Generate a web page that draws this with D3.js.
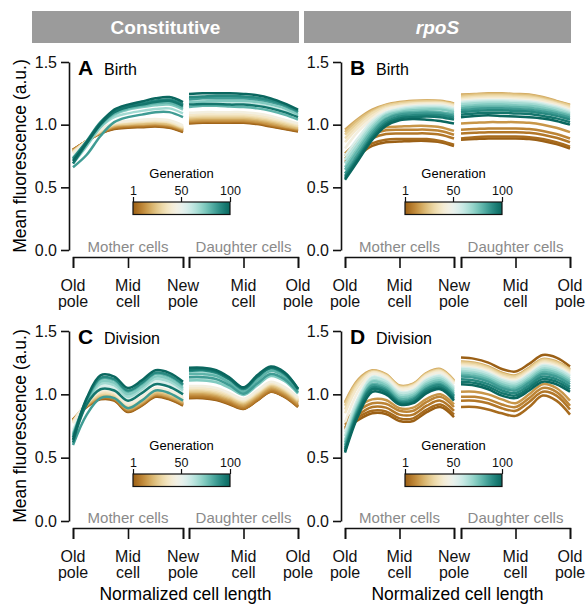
<!DOCTYPE html>
<html>
<head>
<meta charset="utf-8">
<script src="https://cdn.jsdelivr.net/npm/d3@7"></script>
<style>
  body { margin: 0; background: #fff; }
  svg { font-family: "Liberation Sans", Arial, sans-serif; }
</style>
</head>
<body>
<script>
// generations plotted (sampled), positions along cell (0 = start of half, 1 = end)
const gens = [1, 4, 7, 10, 14, 18, 23, 28, 33, 38, 44, 56, 62, 68, 74, 80, 86, 91, 96, 100]
const xPoints = [0, 0.125, 0.25, 0.375, 0.5, 0.625, 0.75, 0.875, 1]
const yTicks = [0, 0.5, 1.0, 1.5]
const genTicks = [1, 50, 100]
const motherLabels = [["Old", "pole"], ["Mid", "cell"], ["New", "pole"]]
const daughterLabels = [[], ["Mid", "cell"], ["Old", "pole"]]

// A: Constitutive, birth
const constBirthMother = [
  [0.80, 0.87, 0.93, 0.965, 0.975, 0.98, 0.985, 0.975, 0.94],
  [0.80, 0.87, 0.93, 0.97, 0.98, 0.985, 0.99, 0.98, 0.945],
  [0.80, 0.87, 0.935, 0.975, 0.985, 0.99, 0.995, 0.985, 0.95],
  [0.80, 0.87, 0.935, 0.98, 0.99, 0.995, 1.00, 0.99, 0.955],
  [0.79, 0.87, 0.94, 0.985, 0.995, 1.00, 1.005, 0.995, 0.96],
  [0.79, 0.87, 0.94, 0.99, 1.00, 1.005, 1.01, 1.00, 0.965],
  [0.79, 0.87, 0.945, 0.995, 1.005, 1.01, 1.015, 1.005, 0.97],
  [0.78, 0.87, 0.945, 1.00, 1.01, 1.02, 1.025, 1.015, 0.975],
  [0.78, 0.87, 0.95, 1.005, 1.02, 1.025, 1.03, 1.02, 0.98],
  [0.78, 0.87, 0.955, 1.01, 1.025, 1.03, 1.035, 1.025, 0.985],
  [0.77, 0.87, 0.96, 1.015, 1.03, 1.04, 1.045, 1.035, 0.995],
  [0.73, 0.86, 0.99, 1.08, 1.12, 1.14, 1.16, 1.165, 1.125],
  [0.72, 0.86, 1.00, 1.10, 1.14, 1.165, 1.185, 1.195, 1.155],
  [0.74, 0.86, 0.98, 1.06, 1.09, 1.11, 1.125, 1.13, 1.09],
  [0.69, 0.83, 0.98, 1.08, 1.12, 1.14, 1.155, 1.16, 1.12],
  [0.72, 0.86, 1.00, 1.09, 1.13, 1.15, 1.17, 1.175, 1.135],
  [0.66, 0.76, 0.91, 1.02, 1.06, 1.08, 1.10, 1.10, 1.06],
  [0.73, 0.87, 1.02, 1.11, 1.15, 1.17, 1.19, 1.20, 1.16],
  [0.69, 0.85, 1.00, 1.10, 1.14, 1.16, 1.18, 1.19, 1.15],
  [0.71, 0.86, 1.01, 1.12, 1.16, 1.185, 1.21, 1.22, 1.18]
]
const constBirthDaughter = [
  [1.01, 1.015, 1.015, 1.015, 1.015, 1.005, 0.985, 0.965, 0.945],
  [1.015, 1.02, 1.02, 1.02, 1.02, 1.01, 0.99, 0.97, 0.95],
  [1.02, 1.025, 1.025, 1.025, 1.025, 1.015, 0.995, 0.975, 0.955],
  [1.025, 1.03, 1.03, 1.03, 1.03, 1.02, 1.00, 0.98, 0.96],
  [1.03, 1.035, 1.035, 1.035, 1.035, 1.025, 1.005, 0.985, 0.965],
  [1.04, 1.045, 1.045, 1.045, 1.045, 1.035, 1.015, 0.99, 0.97],
  [1.05, 1.055, 1.055, 1.055, 1.055, 1.045, 1.025, 1.00, 0.975],
  [1.06, 1.065, 1.065, 1.065, 1.065, 1.055, 1.035, 1.01, 0.985],
  [1.07, 1.075, 1.075, 1.075, 1.075, 1.065, 1.045, 1.02, 0.99],
  [1.08, 1.085, 1.085, 1.085, 1.085, 1.075, 1.055, 1.03, 1.00],
  [1.095, 1.10, 1.10, 1.10, 1.10, 1.09, 1.07, 1.04, 1.01],
  [1.19, 1.195, 1.20, 1.20, 1.195, 1.185, 1.165, 1.135, 1.09],
  [1.17, 1.175, 1.175, 1.175, 1.17, 1.16, 1.14, 1.11, 1.07],
  [1.21, 1.22, 1.22, 1.22, 1.215, 1.205, 1.185, 1.15, 1.10],
  [1.18, 1.185, 1.19, 1.19, 1.19, 1.18, 1.16, 1.13, 1.08],
  [1.14, 1.15, 1.15, 1.145, 1.14, 1.13, 1.11, 1.08, 1.04],
  [1.20, 1.21, 1.21, 1.21, 1.21, 1.20, 1.18, 1.15, 1.10],
  [1.22, 1.225, 1.23, 1.23, 1.225, 1.215, 1.195, 1.16, 1.11],
  [1.16, 1.165, 1.165, 1.16, 1.16, 1.15, 1.13, 1.10, 1.06],
  [1.245, 1.25, 1.25, 1.25, 1.245, 1.235, 1.21, 1.17, 1.12]
]

// B: rpoS, birth
const rpoBirthMother = [
  [0.70, 0.76, 0.83, 0.86, 0.865, 0.87, 0.87, 0.86, 0.83],
  [0.71, 0.78, 0.85, 0.88, 0.885, 0.885, 0.885, 0.87, 0.84],
  [0.73, 0.81, 0.89, 0.925, 0.93, 0.93, 0.93, 0.92, 0.89],
  [0.75, 0.84, 0.92, 0.955, 0.96, 0.96, 0.96, 0.95, 0.92],
  [0.77, 0.87, 0.95, 0.98, 0.985, 0.99, 0.99, 0.98, 0.95],
  [0.96, 1.05, 1.12, 1.16, 1.18, 1.19, 1.195, 1.19, 1.17],
  [0.94, 1.04, 1.11, 1.155, 1.175, 1.185, 1.19, 1.185, 1.165],
  [0.92, 1.02, 1.10, 1.15, 1.17, 1.18, 1.185, 1.18, 1.16],
  [0.89, 1.00, 1.09, 1.14, 1.16, 1.17, 1.175, 1.175, 1.155],
  [0.86, 0.98, 1.07, 1.13, 1.15, 1.165, 1.17, 1.17, 1.15],
  [0.81, 0.95, 1.05, 1.12, 1.145, 1.155, 1.16, 1.16, 1.14],
  [0.75, 0.90, 1.03, 1.10, 1.13, 1.145, 1.15, 1.15, 1.13],
  [0.72, 0.87, 1.01, 1.09, 1.12, 1.135, 1.14, 1.14, 1.12],
  [0.69, 0.85, 0.99, 1.08, 1.11, 1.125, 1.13, 1.13, 1.11],
  [0.66, 0.82, 0.97, 1.07, 1.10, 1.115, 1.12, 1.12, 1.10],
  [0.64, 0.80, 0.95, 1.05, 1.09, 1.10, 1.105, 1.10, 1.085],
  [0.61, 0.77, 0.93, 1.04, 1.08, 1.09, 1.095, 1.09, 1.07],
  [0.59, 0.75, 0.91, 1.02, 1.065, 1.075, 1.08, 1.075, 1.055],
  [0.575, 0.735, 0.895, 1.005, 1.05, 1.06, 1.065, 1.06, 1.04],
  [0.56, 0.72, 0.88, 0.99, 1.035, 1.045, 1.04, 1.03, 1.01]
]
const rpoBirthDaughter = [
  [0.88, 0.885, 0.89, 0.89, 0.89, 0.885, 0.87, 0.845, 0.81],
  [0.89, 0.90, 0.905, 0.905, 0.905, 0.90, 0.885, 0.86, 0.825],
  [0.93, 0.935, 0.94, 0.94, 0.94, 0.935, 0.92, 0.895, 0.86],
  [0.96, 0.965, 0.97, 0.97, 0.97, 0.965, 0.95, 0.925, 0.89],
  [1.01, 1.015, 1.02, 1.02, 1.02, 1.015, 1.00, 0.975, 0.94],
  [1.24, 1.245, 1.25, 1.25, 1.245, 1.24, 1.22, 1.19, 1.16],
  [1.23, 1.24, 1.245, 1.245, 1.24, 1.235, 1.215, 1.185, 1.155],
  [1.22, 1.23, 1.235, 1.235, 1.23, 1.225, 1.205, 1.18, 1.15],
  [1.21, 1.22, 1.225, 1.225, 1.22, 1.215, 1.20, 1.17, 1.14],
  [1.20, 1.21, 1.215, 1.215, 1.21, 1.205, 1.19, 1.165, 1.13],
  [1.19, 1.20, 1.205, 1.205, 1.20, 1.195, 1.18, 1.155, 1.12],
  [1.18, 1.19, 1.195, 1.195, 1.19, 1.185, 1.17, 1.145, 1.11],
  [1.17, 1.18, 1.185, 1.185, 1.18, 1.175, 1.16, 1.135, 1.10],
  [1.16, 1.17, 1.175, 1.175, 1.17, 1.165, 1.15, 1.125, 1.09],
  [1.145, 1.155, 1.16, 1.16, 1.155, 1.15, 1.135, 1.11, 1.08],
  [1.13, 1.14, 1.145, 1.145, 1.14, 1.135, 1.12, 1.10, 1.07],
  [1.115, 1.125, 1.13, 1.13, 1.125, 1.12, 1.105, 1.085, 1.055],
  [1.10, 1.11, 1.115, 1.115, 1.11, 1.105, 1.09, 1.07, 1.04],
  [1.08, 1.09, 1.095, 1.095, 1.09, 1.085, 1.07, 1.05, 1.02],
  [1.06, 1.07, 1.075, 1.07, 1.065, 1.06, 1.05, 1.03, 1.00]
]

// C: Constitutive, division
const constDivMother = [
  [0.80, 0.90, 0.96, 0.95, 0.86, 0.91, 0.98, 0.96, 0.91],
  [0.80, 0.905, 0.965, 0.955, 0.865, 0.915, 0.985, 0.965, 0.915],
  [0.80, 0.905, 0.97, 0.96, 0.87, 0.92, 0.99, 0.97, 0.92],
  [0.80, 0.91, 0.975, 0.965, 0.875, 0.925, 0.995, 0.975, 0.925],
  [0.79, 0.91, 0.98, 0.97, 0.88, 0.93, 1.00, 0.98, 0.93],
  [0.79, 0.915, 0.985, 0.975, 0.885, 0.935, 1.005, 0.985, 0.935],
  [0.79, 0.92, 0.99, 0.98, 0.895, 0.945, 1.015, 0.995, 0.945],
  [0.78, 0.925, 1.00, 0.99, 0.905, 0.955, 1.025, 1.005, 0.955],
  [0.78, 0.93, 1.01, 1.00, 0.915, 0.965, 1.035, 1.015, 0.965],
  [0.78, 0.93, 1.02, 1.01, 0.92, 0.97, 1.04, 1.02, 0.97],
  [0.77, 0.935, 1.03, 1.02, 0.93, 0.98, 1.05, 1.03, 0.98],
  [0.72, 0.93, 1.06, 1.05, 0.96, 1.02, 1.10, 1.08, 1.02],
  [0.70, 0.94, 1.09, 1.08, 0.99, 1.05, 1.13, 1.11, 1.04],
  [0.69, 0.93, 1.08, 1.07, 0.98, 1.04, 1.12, 1.10, 1.03],
  [0.66, 0.93, 1.10, 1.09, 1.00, 1.06, 1.14, 1.12, 1.05],
  [0.68, 0.95, 1.12, 1.11, 1.02, 1.08, 1.16, 1.14, 1.07],
  [0.60, 0.84, 0.97, 0.97, 0.89, 0.95, 1.03, 1.01, 0.95],
  [0.66, 0.96, 1.13, 1.12, 1.03, 1.09, 1.17, 1.15, 1.08],
  [0.62, 0.92, 1.04, 1.03, 0.95, 1.01, 1.08, 1.06, 1.00],
  [0.64, 0.97, 1.15, 1.14, 1.05, 1.11, 1.19, 1.17, 1.10]
]
const constDivDaughter = [
  [0.97, 0.97, 0.955, 0.92, 0.885, 0.95, 1.02, 0.98, 0.90],
  [0.975, 0.975, 0.96, 0.925, 0.888, 0.953, 1.023, 0.983, 0.903],
  [0.98, 0.98, 0.965, 0.93, 0.89, 0.955, 1.025, 0.985, 0.905],
  [0.99, 0.99, 0.975, 0.94, 0.90, 0.965, 1.035, 0.995, 0.915],
  [1.00, 1.00, 0.985, 0.95, 0.91, 0.975, 1.045, 1.005, 0.925],
  [1.01, 1.01, 0.995, 0.96, 0.92, 0.985, 1.055, 1.015, 0.935],
  [1.02, 1.02, 1.005, 0.97, 0.93, 0.995, 1.065, 1.025, 0.945],
  [1.03, 1.03, 1.015, 0.98, 0.94, 1.005, 1.075, 1.035, 0.95],
  [1.04, 1.04, 1.025, 0.99, 0.948, 1.013, 1.083, 1.043, 0.958],
  [1.05, 1.05, 1.035, 1.00, 0.955, 1.02, 1.09, 1.05, 0.965],
  [1.065, 1.065, 1.05, 1.01, 0.965, 1.03, 1.10, 1.06, 0.975],
  [1.15, 1.15, 1.135, 1.08, 1.015, 1.10, 1.175, 1.13, 1.025],
  [1.12, 1.12, 1.105, 1.06, 1.00, 1.075, 1.15, 1.11, 1.01],
  [1.175, 1.18, 1.16, 1.105, 1.035, 1.125, 1.20, 1.155, 1.035],
  [1.11, 1.11, 1.095, 1.05, 0.995, 1.07, 1.145, 1.105, 1.005],
  [1.16, 1.16, 1.145, 1.09, 1.02, 1.11, 1.185, 1.14, 1.03],
  [1.135, 1.135, 1.12, 1.07, 1.005, 1.085, 1.16, 1.12, 1.015],
  [1.185, 1.19, 1.17, 1.115, 1.04, 1.135, 1.205, 1.16, 1.04],
  [1.195, 1.20, 1.18, 1.12, 1.05, 1.14, 1.21, 1.17, 1.042],
  [1.21, 1.21, 1.19, 1.13, 1.055, 1.15, 1.22, 1.175, 1.045]
]

// D: rpoS, division
const rpoDivMother = [
  [0.72, 0.80, 0.85, 0.845, 0.79, 0.79, 0.86, 0.90, 0.82],
  [0.73, 0.82, 0.87, 0.865, 0.81, 0.81, 0.88, 0.92, 0.84],
  [0.74, 0.84, 0.90, 0.895, 0.84, 0.84, 0.91, 0.95, 0.87],
  [0.76, 0.87, 0.93, 0.925, 0.87, 0.87, 0.94, 0.98, 0.90],
  [0.78, 0.90, 0.96, 0.955, 0.89, 0.895, 0.965, 1.00, 0.92],
  [0.94, 1.12, 1.19, 1.16, 1.07, 1.085, 1.17, 1.20, 1.11],
  [0.93, 1.11, 1.185, 1.155, 1.065, 1.08, 1.165, 1.195, 1.105],
  [0.91, 1.10, 1.18, 1.15, 1.06, 1.075, 1.16, 1.19, 1.10],
  [0.88, 1.085, 1.175, 1.145, 1.055, 1.07, 1.155, 1.185, 1.095],
  [0.85, 1.07, 1.17, 1.14, 1.05, 1.065, 1.15, 1.18, 1.09],
  [0.78, 1.03, 1.16, 1.13, 1.04, 1.055, 1.14, 1.17, 1.08],
  [0.70, 0.98, 1.14, 1.11, 1.02, 1.035, 1.12, 1.15, 1.06],
  [0.67, 0.96, 1.13, 1.10, 1.01, 1.025, 1.11, 1.14, 1.05],
  [0.64, 0.94, 1.11, 1.085, 0.995, 1.01, 1.095, 1.125, 1.035],
  [0.62, 0.92, 1.10, 1.07, 0.98, 0.995, 1.08, 1.11, 1.02],
  [0.60, 0.905, 1.08, 1.055, 0.965, 0.98, 1.065, 1.095, 1.005],
  [0.58, 0.89, 1.07, 1.04, 0.95, 0.965, 1.05, 1.08, 0.99],
  [0.565, 0.875, 1.055, 1.03, 0.94, 0.955, 1.04, 1.07, 0.98],
  [0.55, 0.86, 1.04, 1.015, 0.93, 0.94, 1.025, 1.055, 0.965],
  [0.54, 0.84, 1.02, 1.00, 0.92, 0.93, 1.01, 1.04, 0.95]
]
const rpoDivDaughter = [
  [1.29, 1.28, 1.25, 1.20, 1.18, 1.24, 1.31, 1.29, 1.22],
  [0.90, 0.90, 0.88, 0.85, 0.83, 0.90, 0.99, 0.95, 0.84],
  [0.95, 0.95, 0.93, 0.89, 0.87, 0.94, 1.02, 0.99, 0.88],
  [0.98, 0.98, 0.96, 0.92, 0.90, 0.97, 1.05, 1.02, 0.91],
  [1.02, 1.02, 1.00, 0.96, 0.93, 1.00, 1.08, 1.05, 0.95],
  [1.26, 1.25, 1.22, 1.17, 1.15, 1.21, 1.28, 1.26, 1.20],
  [1.255, 1.245, 1.215, 1.165, 1.145, 1.205, 1.275, 1.255, 1.195],
  [1.25, 1.24, 1.21, 1.16, 1.14, 1.20, 1.27, 1.25, 1.19],
  [1.24, 1.23, 1.20, 1.15, 1.13, 1.19, 1.26, 1.24, 1.18],
  [1.23, 1.22, 1.19, 1.14, 1.12, 1.18, 1.25, 1.23, 1.17],
  [1.22, 1.21, 1.18, 1.13, 1.11, 1.17, 1.24, 1.22, 1.16],
  [1.21, 1.20, 1.17, 1.12, 1.10, 1.16, 1.23, 1.21, 1.15],
  [1.20, 1.19, 1.16, 1.11, 1.09, 1.15, 1.22, 1.20, 1.14],
  [1.185, 1.175, 1.145, 1.095, 1.075, 1.135, 1.205, 1.185, 1.125],
  [1.17, 1.16, 1.13, 1.08, 1.06, 1.12, 1.19, 1.17, 1.11],
  [1.155, 1.145, 1.115, 1.065, 1.045, 1.105, 1.175, 1.155, 1.095],
  [1.14, 1.13, 1.10, 1.05, 1.03, 1.09, 1.16, 1.14, 1.08],
  [1.12, 1.11, 1.08, 1.03, 1.01, 1.07, 1.14, 1.12, 1.06],
  [1.10, 1.09, 1.06, 1.01, 0.99, 1.05, 1.12, 1.10, 1.04],
  [1.08, 1.07, 1.04, 0.99, 0.97, 1.03, 1.10, 1.08, 1.02]
]

const width = 586, height = 605
const svg = d3.select("body").append("svg")
    .attr("width", width)
    .attr("height", height)

const genColor = g => d3.interpolateBrBG(0.13 + (g - 1) / 99 * 0.77)

const cols = [
  {axis: 69, mother: [73, 183], daughter: [189, 298], header: [32, 299], name: "Constitutive", italic: false},
  {axis: 341, mother: [345, 454], daughter: [461, 570], header: [304, 571], name: "rpoS", italic: true}
]
const rows = [
  {y: [250, 62], bracket: 257, legendTop: 202},
  {y: [521, 331], bracket: 528, legendTop: 474}
]
const panels = [
  {label: "A", title: "Birth", col: 0, row: 0, mother: constBirthMother, daughter: constBirthDaughter},
  {label: "B", title: "Birth", col: 1, row: 0, mother: rpoBirthMother, daughter: rpoBirthDaughter},
  {label: "C", title: "Division", col: 0, row: 1, mother: constDivMother, daughter: constDivDaughter},
  {label: "D", title: "Division", col: 1, row: 1, mother: rpoDivMother, daughter: rpoDivDaughter}
]

// gradient for the colour bar
const grad = svg.append("defs").append("linearGradient").attr("id", "genGrad")
d3.range(0, 1.0001, 0.05).forEach(t => {
  grad.append("stop")
      .attr("offset", t)
      .attr("stop-color", genColor(1 + t * 99))
})

// column headers
cols.forEach(c => {
  svg.append("rect")
      .attr("x", c.header[0]).attr("y", 11)
      .attr("width", c.header[1] - c.header[0]).attr("height", 32)
      .attr("fill", "#9b9b9b")
  svg.append("text")
      .attr("x", (c.header[0] + c.header[1]) / 2).attr("y", 33.5)
      .attr("text-anchor", "middle")
      .attr("fill", "#fff")
      .attr("font-weight", "bold")
      .attr("font-style", c.italic ? "italic" : "normal")
      .attr("font-size", 19)
      .text(c.name)
})

panels.forEach(p => {
  const c = cols[p.col], r = rows[p.row]
  const g = svg.append("g")

  const y = d3.scaleLinear().domain([0, 1.5]).range(r.y)
  const xm = d3.scaleLinear().domain([0, 1]).range(c.mother)
  const xd = d3.scaleLinear().domain([0, 1]).range(c.daughter)

  // y axis
  const ya = g.append("g")
      .attr("transform", "translate(" + c.axis + ",0)")
      .call(d3.axisLeft(y).tickValues(yTicks).tickFormat(d3.format(".1f")).tickSize(8).tickSizeOuter(0).tickPadding(4))
  ya.selectAll("path, line").attr("stroke", "#111").attr("stroke-width", 1.6)
  ya.selectAll("text").attr("font-size", 16).attr("fill", "#111").attr("font-family", "Liberation Sans, Arial, sans-serif")

  // curves, generation order so late generations sit on top
  const halves = [{sc: xm, data: p.mother}, {sc: xd, data: p.daughter}]
  halves.forEach(h => {
    const line = d3.line()
        .x((d, i) => h.sc(xPoints[i]))
        .y(d => y(d))
        .curve(d3.curveCatmullRom.alpha(0.5))
    const curves = gens.map((gen, i) => ({gen: gen, vals: h.data[i]}))
    g.append("g").selectAll("path")
        .data(curves)
        .enter()
        .append("path")
        .attr("d", d => line(d.vals))
        .attr("fill", "none")
        .attr("stroke", d => genColor(d.gen))
        .attr("stroke-width", 2.5)
  })

  // bracket axes under mother and daughter halves
  const brackets = [{sc: xm, labels: motherLabels, name: "Mother cells"}, {sc: xd, labels: daughterLabels, name: "Daughter cells"}]
  brackets.forEach(b => {
    const ax = g.append("g")
        .attr("transform", "translate(0," + r.bracket + ")")
        .call(d3.axisBottom(b.sc).tickValues([0, 0.5, 1]).tickSize(11).tickSizeOuter(11).tickFormat(""))
    ax.selectAll("path, line").attr("stroke", "#111").attr("stroke-width", 1.6)
    ax.selectAll("text").remove()
    ;[0, 0.5, 1].forEach((v, i) => {
      const t = g.append("text")
          .attr("text-anchor", "middle")
          .attr("font-size", 16)
          .attr("fill", "#111")
      b.labels[i].forEach((s, k) => {
        t.append("tspan")
            .attr("x", b.sc(v))
            .attr("y", r.bracket + 34 + k * 16)
            .text(s)
      })
    })
    g.append("text")
        .attr("x", b.sc(0.5))
        .attr("y", r.bracket - 5)
        .attr("text-anchor", "middle")
        .attr("font-size", 15)
        .attr("fill", "#8a8a8a")
        .text(b.name)
  })

  // panel letter and title
  g.append("text")
      .attr("x", c.axis + 9).attr("y", r.y[1] + 13)
      .attr("font-weight", "bold").attr("font-size", 21)
      .text(p.label)
  g.append("text")
      .attr("x", c.axis + 35).attr("y", r.y[1] + 13)
      .attr("font-size", 16)
      .text(p.title)

  // generation colour bar
  const lx = [c.axis + 64, c.axis + 161]
  const gs = d3.scaleLinear().domain([1, 100]).range(lx)
  g.append("rect")
      .attr("x", lx[0]).attr("y", r.legendTop)
      .attr("width", lx[1] - lx[0]).attr("height", 12.5)
      .attr("fill", "url(#genGrad)")
      .attr("stroke", "#111").attr("stroke-width", 1.2)
  const la = g.append("g")
      .attr("transform", "translate(0," + r.legendTop + ")")
      .call(d3.axisTop(gs).tickValues(genTicks).tickSize(5).tickPadding(2))
  la.select(".domain").remove()
  la.selectAll("line").attr("stroke", "#111").attr("stroke-width", 1.2)
  la.selectAll("text").attr("font-size", 12.5).attr("fill", "#111").attr("font-family", "Liberation Sans, Arial, sans-serif")
  g.append("text")
      .attr("x", (lx[0] + lx[1]) / 2).attr("y", r.legendTop - 24)
      .attr("text-anchor", "middle")
      .attr("font-size", 13)
      .text("Generation")
})

// y titles
rows.forEach(r => {
  svg.append("text")
      .attr("transform", "translate(26," + ((r.y[0] + r.y[1]) / 2) + ") rotate(-90)")
      .attr("text-anchor", "middle")
      .attr("font-size", 17.5)
      .text("Mean fluorescence (a.u.)")
})

// x titles
cols.forEach(c => {
  svg.append("text")
      .attr("x", (c.mother[0] + c.daughter[1]) / 2).attr("y", 600)
      .attr("text-anchor", "middle")
      .attr("font-size", 17.5)
      .text("Normalized cell length")
})
</script>
</body>
</html>
